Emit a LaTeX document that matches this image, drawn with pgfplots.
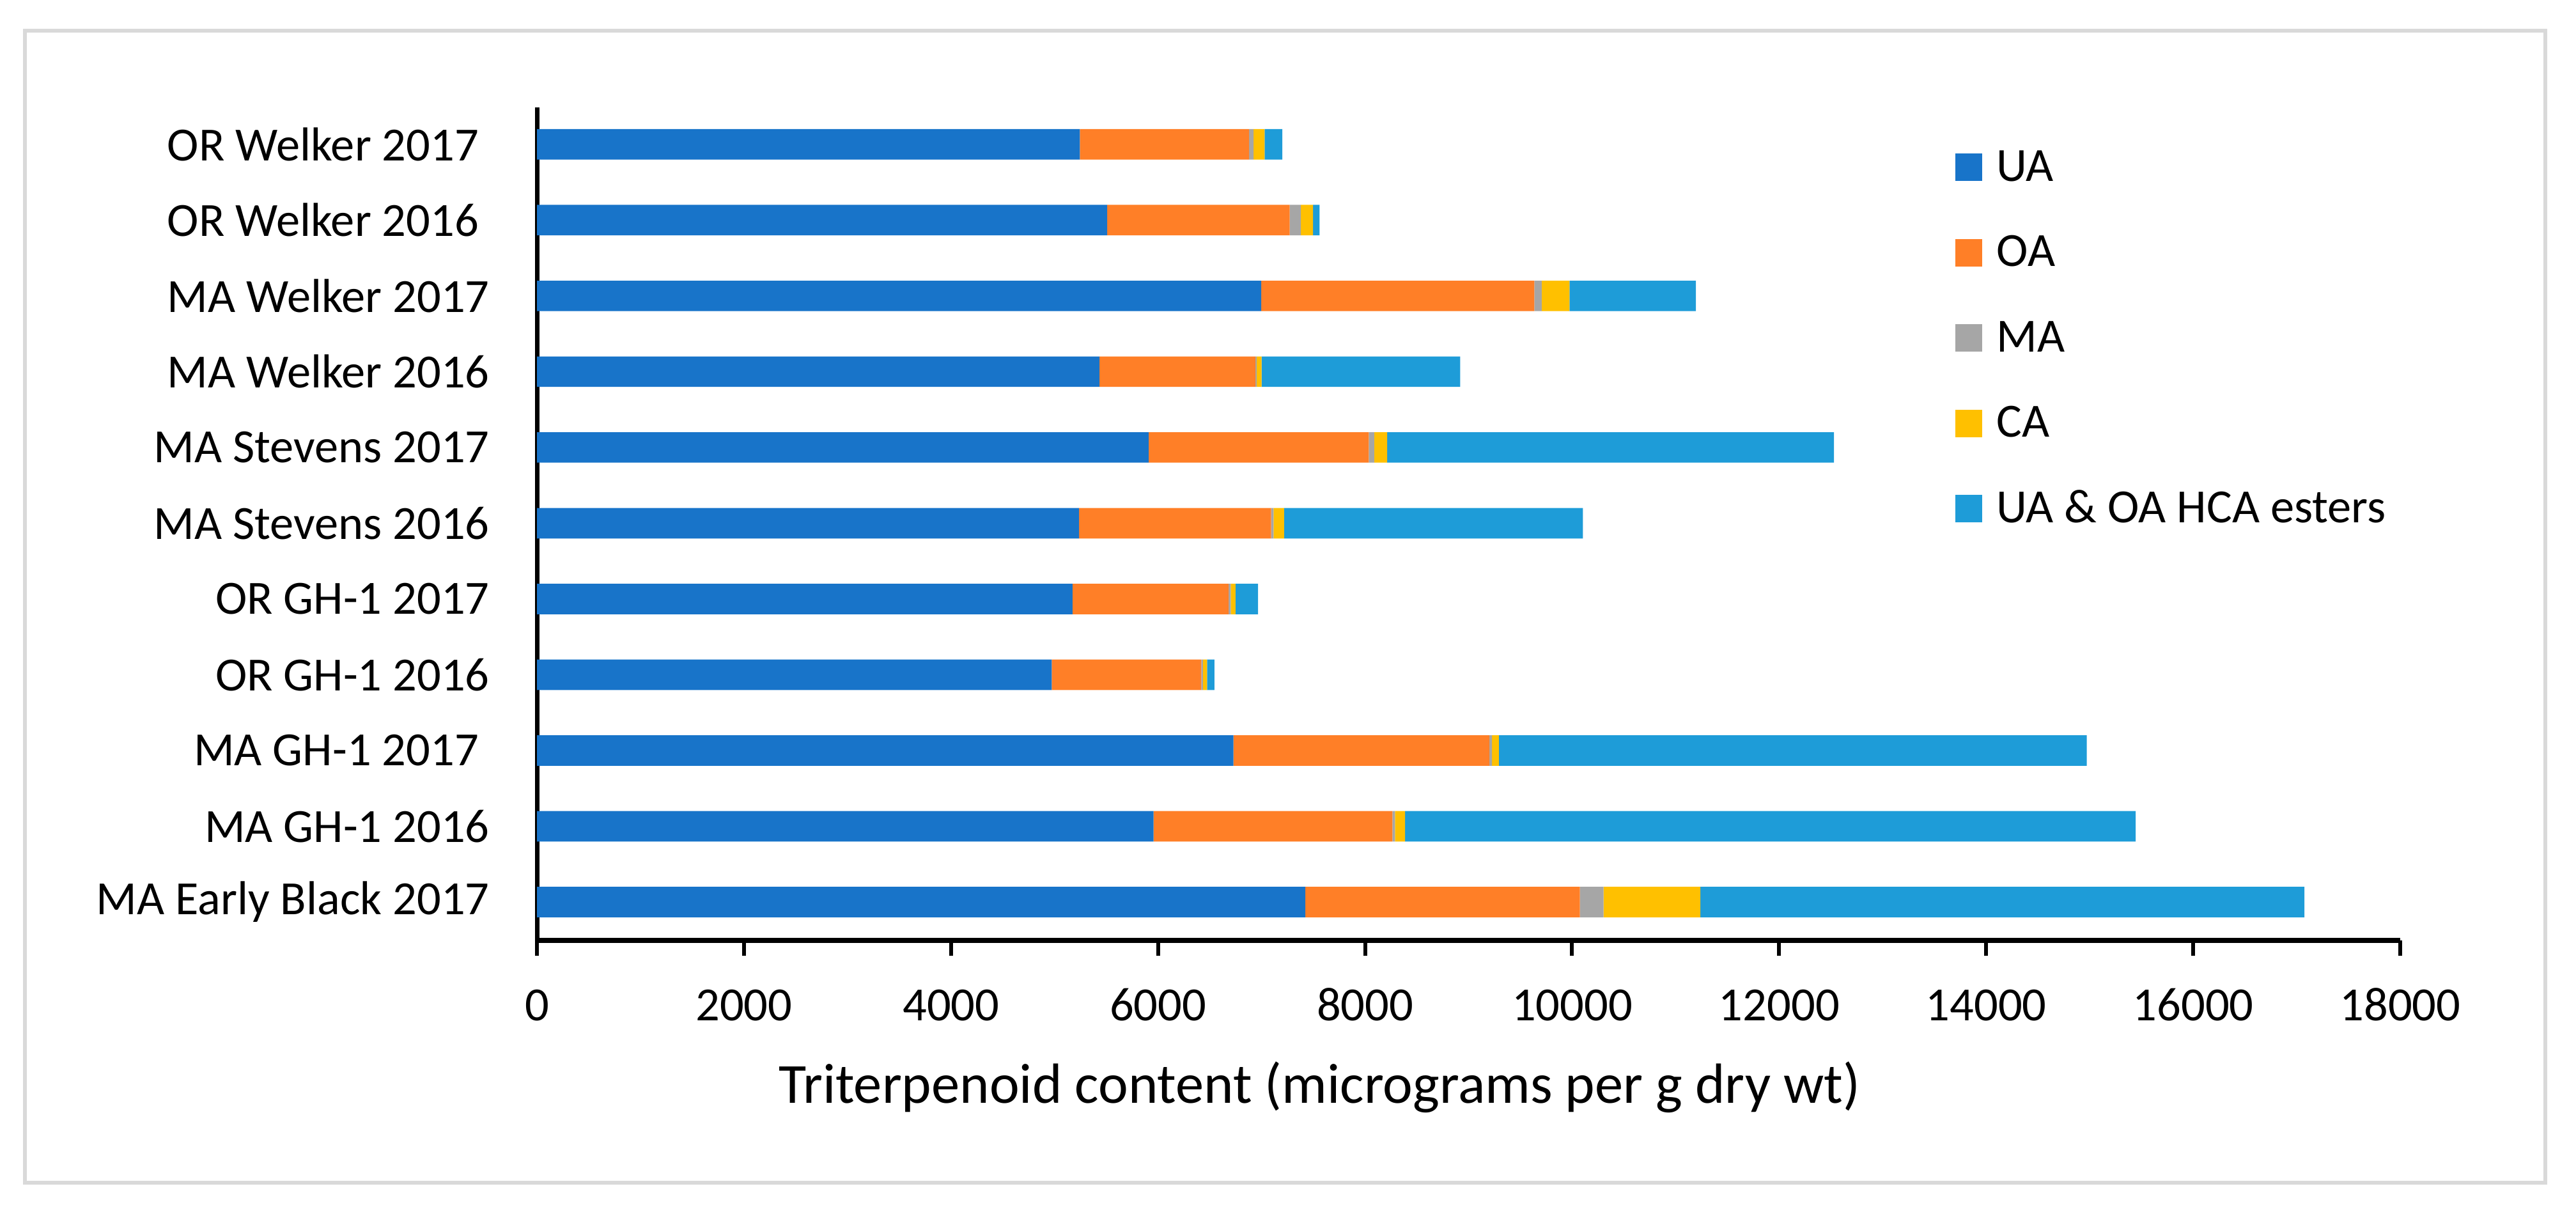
\documentclass[border=0pt]{standalone}
\usepackage{fontspec}
\setmainfont{Carlito}
\usepackage{pgfplots}
\pgfplotsset{compat=1.18}

\definecolor{cUA}{HTML}{1874C9}
\definecolor{cOA}{HTML}{FF7F27}
\definecolor{cMA}{HTML}{A6A6A6}
\definecolor{cCA}{HTML}{FFC000}
\definecolor{cHCA}{HTML}{1E9CD8}
\definecolor{framegray}{HTML}{D9D9D9}

% square legend marker, sitting on the text baseline
\pgfplotsset{
  legsq/.style={legend image code/.code={\fill[##1] (0cm,-0.1cm) rectangle (0.21cm,0.115cm);}},
}

\begin{document}
\begin{tikzpicture}
  \path[use as bounding box] (0,0) rectangle (20.15,9.435);
  \draw[framegray, line width=0.03cm] (0.195,0.185) rectangle (19.91,9.195);

  \begin{axis}[
    at={(4.2cm,2.08cm)}, anchor=south west,
    scale only axis,
    width=14.575cm,
    height=6.515cm,
    xbar stacked,
    bar width=0.2385cm,
    xmin=0, xmax=18000,
    ymin=-0.506, ymax=10.488,
    xtick={0,2000,...,18000},
    scaled x ticks=false,
    ytick={0,...,10},
    yticklabels={MA Early Black 2017, MA GH-1 2016, MA GH-1 2017\kern0.226em, OR GH-1 2016, OR GH-1 2017,
      MA Stevens 2016, MA Stevens 2017, MA Welker 2016, MA Welker 2017, OR Welker 2016\kern0.226em, OR Welker 2017\kern0.226em},
    axis x line*=bottom,
    axis y line*=left,
    x axis line style={line width=0.04cm, -},
    y axis line style={line width=0.035cm, -},
    tick align=outside,
    major tick length=0.12cm,
    xtick style={line width=0.03cm, black},
    ytick style={draw=none},
    /pgf/number format/1000 sep={},
    /pgf/number format/assume math mode=true,
    tick label style={font=\fontsize{10.6}{12}\selectfont},
    xticklabel style={anchor=base, yshift=-0.505cm},
    yticklabel style={anchor=east, inner sep=0pt, xshift=-0.245cm},
    xlabel={Triterpenoid content (micrograms per g dry wt)},
    xlabel style={font=\fontsize{12.6}{14}\selectfont, at={(axis description cs:0.42,0)}, anchor=base, yshift=-1.27cm},
    legend cell align=left,
    legend style={
      at={(0.7606,0.9588)}, anchor=north west,
      draw=none, fill=none, inner sep=0pt,
      row sep=0.2675cm,
      font=\fontsize{10.6}{12}\selectfont,
      nodes={inner sep=0pt, text height=0.3cm, text depth=0.1cm},
      /tikz/every odd column/.append style={column sep=0.115cm},
    },
  ]

  % UA
  \addplot[fill=cUA, draw=none, legsq] coordinates {
    (7423,0) (5957,1) (6729,2) (4973,3) (5174,4) (5237,5)
    (5910,6) (5434,7) (6997,8) (5508,9) (5245,10)
  };
  \addlegendentry{UA}

  % OA
  \addplot[fill=cOA, draw=none, legsq] coordinates {
    (2652,0) (2308,1) (2473,2) (1445,3) (1508,4) (1855,5)
    (2126,6) (1508,7) (2638,8) (1764,9) (1634,10)
  };
  \addlegendentry{OA}

  % MA
  \addplot[fill=cMA, draw=none, legsq] coordinates {
    (229,0) (24,1) (24,2) (16,3) (20,4) (23,5)
    (52,6) (12,7) (71,8) (107,9) (44,10)
  };
  \addlegendentry{MA}

  % CA
  \addplot[fill=cCA, draw=none, legsq] coordinates {
    (935,0) (98,1) (67,2) (39,3) (47,4) (103,5)
    (126,6) (46,7) (268,8) (118,9) (106,10)
  };
  \addlegendentry{CA}

  % UA & OA HCA esters
  \addplot[fill=cHCA, draw=none, legsq] coordinates {
    (5835,0) (7057,1) (5678,2) (71,3) (217,4) (2886,5)
    (4315,6) (1919,7) (1222,8) (63,9) (172,10)
  };
  \addlegendentry{UA \& OA HCA esters}

  \end{axis}
\end{tikzpicture}
\end{document}
